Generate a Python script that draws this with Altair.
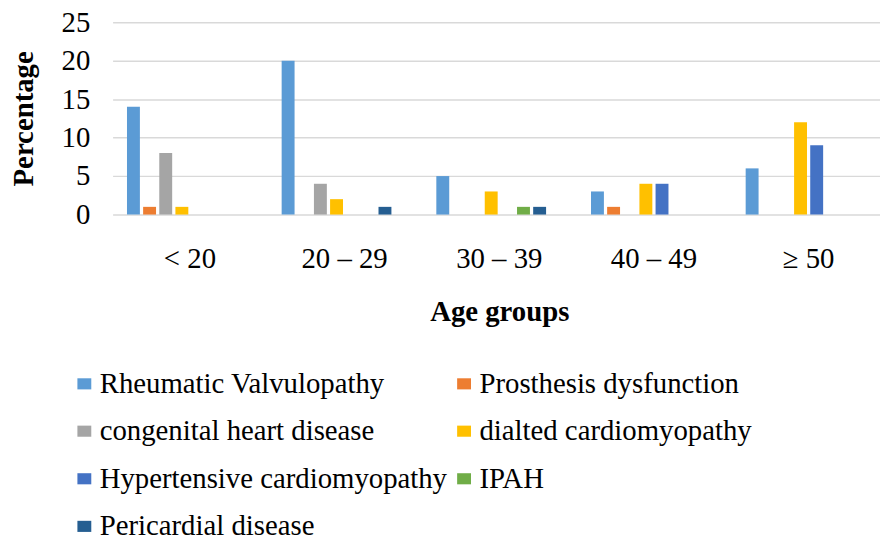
import altair as alt
import pandas as pd

groups = ["< 20", "20 – 29", "30 – 39", "40 – 49", "≥ 50"]
series = [
    "Rheumatic Valvulopathy",
    "Prosthesis dysfunction",
    "congenital heart disease",
    "dialted cardiomyopathy",
    "Hypertensive cardiomyopathy",
    "IPAH",
    "Pericardial disease",
]
colors = ["#5B9BD5", "#ED7D31", "#A5A5A5", "#FFC000", "#4472C4", "#70AD47", "#255E91"]

rheumatic = [14, 20, 5, 3, 6]
prosthesis = [1, 0, 0, 1, 0]
congenital = [8, 4, 0, 0, 0]
dilated = [1, 2, 3, 4, 12]
hypertensive = [0, 0, 0, 4, 9]
ipah = [0, 0, 1, 0, 0]
pericardial = [0, 1, 1, 0, 0]

values = [rheumatic, prosthesis, congenital, dilated, hypertensive, ipah, pericardial]
rows = []
for s, vals in zip(series, values):
    for g, v in zip(groups, vals):
        rows.append({"group": g, "series": s, "value": v})
df = pd.DataFrame(rows)

FONT = "Liberation Serif"

chart = (
    alt.Chart(df)
    .mark_bar()
    .encode(
        x=alt.X(
            "group:N",
            sort=groups,
            scale=alt.Scale(domain=groups, paddingInner=0.186, paddingOuter=0.093, range=[0, 780]),
            axis=alt.Axis(
                title="Age groups",
                labelAngle=0,
                ticks=False,
                domain=False,
                labelPadding=30,
                labelFontSize=29,
                labelFont=FONT,
                labelColor="black",
                titleFont=FONT,
                titleFontSize=29,
                titleFontWeight="bold",
                titleColor="black",
                titleBaseline="middle",
                titleY=98,
            ),
        ),
        xOffset=alt.XOffset(
            "series:N",
            scale=alt.Scale(domain=series + ["_gap"], paddingInner=0.2, paddingOuter=0),
        ),
        y=alt.Y(
            "value:Q",
            scale=alt.Scale(domain=[0, 25]),
            axis=alt.Axis(
                title="Percentage",
                values=[0, 5, 10, 15, 20, 25],
                ticks=False,
                domain=False,
                grid=True,
                gridColor="#d9d9d9",
                gridWidth=1.5,
                labelPadding=23,
                labelFontSize=29,
                labelFont=FONT,
                labelColor="black",
                titleFont=FONT,
                titleFontSize=29,
                titleFontWeight="bold",
                titleColor="black",
                titleBaseline="middle",
                titleX=-90,
            ),
        ),
        color=alt.Color(
            "series:N",
            scale=alt.Scale(domain=series, range=colors),
            legend=alt.Legend(
                title=None,
                orient="none",
                legendX=-43,
                legendY=350,
                direction="horizontal",
                columns=2,
                columnPadding=2,
                rowPadding=18,
                symbolType="M-1,-0.8H1V0.8H-1Z",
                symbolSize=196,
                symbolStrokeWidth=0,
                labelFont=FONT,
                labelFontSize=29,
                labelColor="black",
                labelOffset=1,
                labelLimit=0,
                padding=0,
            ),
        ),
    )
    .properties(
        width=774,
        height=194,
        autosize=alt.AutoSizeParams(type="none"),
        padding={"left": 105.5, "top": 12, "right": 0, "bottom": 334},
    )
    .configure_view(stroke=None)
)

chart.save("out.html", embed_options={"renderer": "svg", "actions": False})
